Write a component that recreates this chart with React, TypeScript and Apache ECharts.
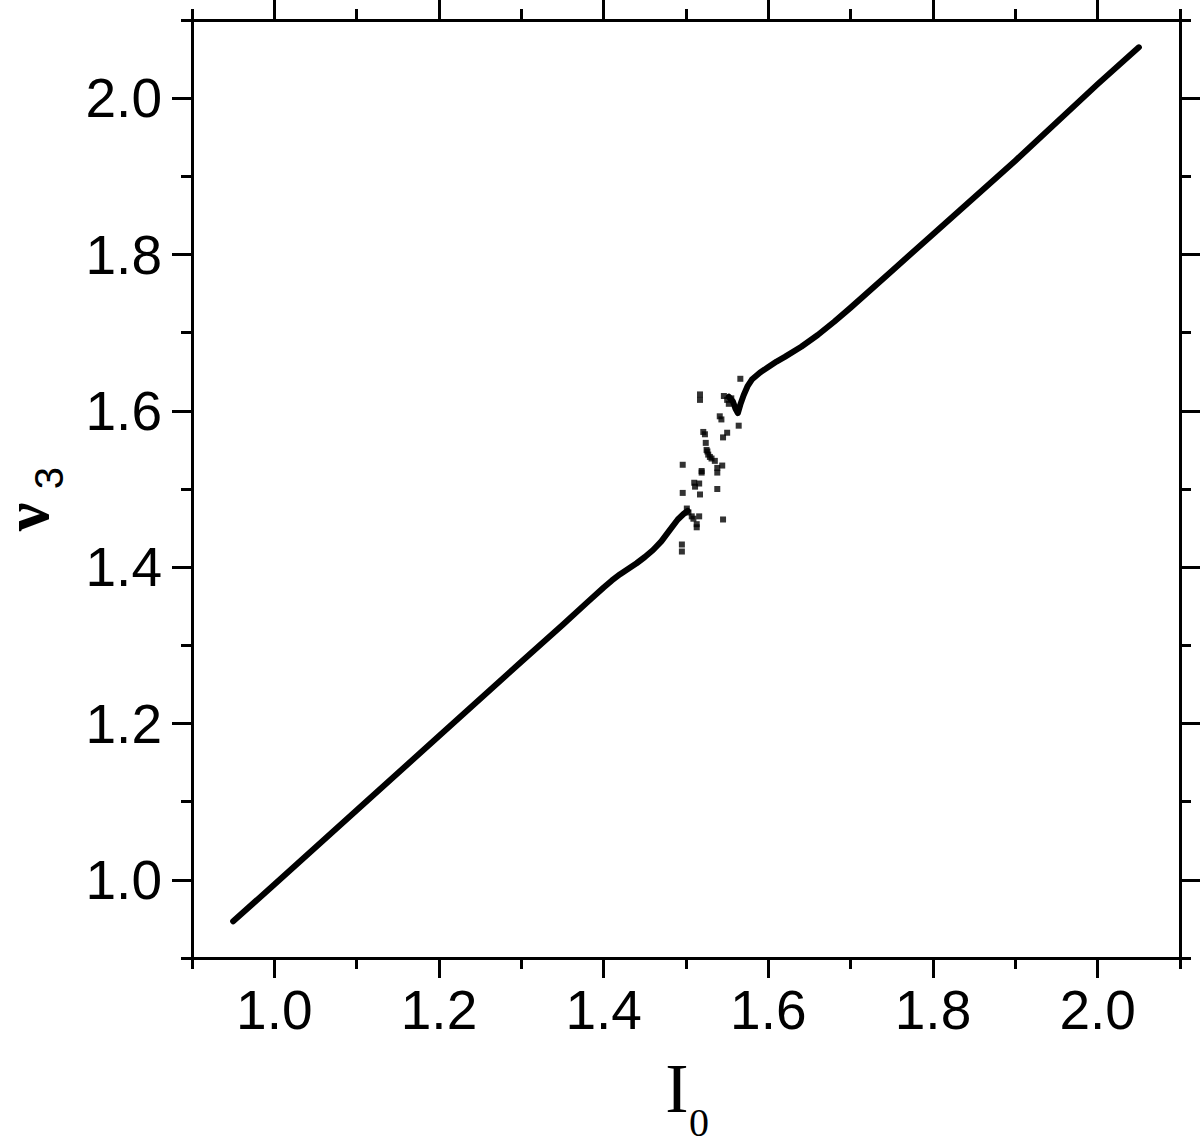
import React, { useEffect, useRef } from "react";
import * as echarts from "echarts";

const xMajorTicks = [1.0, 1.2, 1.4, 1.6, 1.8, 2.0];
const yMajorTicks = [1.0, 1.2, 1.4, 1.6, 1.8, 2.0];

const lowerX = [0.95, 1.0, 1.1, 1.2, 1.3, 1.35, 1.38, 1.4, 1.41, 1.42, 1.43, 1.44, 1.45, 1.46, 1.47, 1.48, 1.49, 1.497, 1.502];
const lowerY = [0.947, 0.994, 1.089, 1.184, 1.279, 1.326, 1.355, 1.374, 1.383, 1.391, 1.398, 1.405, 1.413, 1.422, 1.433, 1.447, 1.461, 1.468, 1.472];

const upperX = [1.552, 1.557, 1.56, 1.563, 1.566, 1.57, 1.575, 1.58, 1.59, 1.6, 1.61, 1.62, 1.64, 1.66, 1.68, 1.7, 1.75, 1.8, 1.9, 2.0, 2.05];
const upperY = [1.618, 1.612, 1.603, 1.597, 1.608, 1.62, 1.632, 1.64, 1.649, 1.656, 1.663, 1.669, 1.682, 1.697, 1.714, 1.732, 1.779, 1.826, 1.92, 2.018, 2.065];

const scatterX = [1.566, 1.517, 1.517, 1.546, 1.55, 1.555, 1.552, 1.564, 1.541, 1.543, 1.55, 1.545, 1.521, 1.523, 1.524, 1.525, 1.527, 1.531, 1.535, 1.538, 1.538, 1.544, 1.496, 1.519, 1.519, 1.51, 1.511, 1.516, 1.538, 1.496, 1.517, 1.503, 1.501, 1.507, 1.516, 1.513, 1.513, 1.545, 1.495, 1.495, 1.509, 1.526, 1.529];
const scatterY = [1.641, 1.621, 1.614, 1.619, 1.614, 1.616, 1.609, 1.581, 1.593, 1.589, 1.572, 1.566, 1.573, 1.57, 1.559, 1.55, 1.544, 1.539, 1.536, 1.527, 1.521, 1.53, 1.531, 1.523, 1.521, 1.508, 1.503, 1.507, 1.5, 1.495, 1.493, 1.47, 1.475, 1.465, 1.465, 1.455, 1.451, 1.461, 1.429, 1.42, 1.462, 1.548, 1.541];

const black = "#000";

function labelFmt(v: number) {
  const r = Math.round(v * 10);
  return r % 2 === 0 ? (r / 10).toFixed(1) : "";
}

function minorAxis(pos: string, showLabel: boolean, margin: number) {
  return {
    type: "value",
    position: pos,
    min: 0.9,
    max: 2.1,
    interval: 0.1,
    axisLine: { show: true, onZero: false, lineStyle: { color: black, width: 3 } },
    axisTick: { show: true, inside: false, length: 11, lineStyle: { color: black, width: 3 } },
    axisLabel: {
      show: showLabel,
      formatter: labelFmt,
      margin,
      color: black,
      fontSize: 55,
      fontFamily: "Liberation Sans, Arial, sans-serif",
    },
    splitLine: { show: false },
  };
}

function majorAxis(pos: string, ticks: number[]) {
  return {
    type: "value",
    position: pos,
    min: 0.9,
    max: 2.1,
    axisLine: { show: false, onZero: false },
    axisTick: { show: true, inside: false, length: 20, customValues: ticks, lineStyle: { color: black, width: 3 } },
    axisLabel: { show: false },
    splitLine: { show: false },
  };
}

export default function App() {
  const ref = useRef<HTMLDivElement>(null);
  useEffect(() => {
    document.body.style.margin = "0";
    const chart = echarts.init(ref.current as HTMLDivElement, null, { renderer: "svg" });
    const option = {
      animation: false,
      backgroundColor: "#fff",
      grid: { left: 192, right: 20, top: 20, bottom: 185, containLabel: false },
      xAxis: [
        minorAxis("bottom", true, 24),
        majorAxis("bottom", xMajorTicks),
        minorAxis("top", false, 8),
        majorAxis("top", xMajorTicks),
      ],
      yAxis: [
        minorAxis("left", true, 30),
        majorAxis("left", yMajorTicks),
        minorAxis("right", false, 8),
        majorAxis("right", yMajorTicks),
      ],
      series: [
        {
          type: "line",
          xAxisIndex: 0,
          yAxisIndex: 0,
          data: lowerX.map((x, i) => [x, lowerY[i]]),
          symbol: "none",
          lineStyle: { color: black, width: 6, cap: "round", join: "round" },
        },
        {
          type: "line",
          xAxisIndex: 0,
          yAxisIndex: 0,
          data: upperX.map((x, i) => [x, upperY[i]]),
          symbol: "none",
          lineStyle: { color: black, width: 6, cap: "round", join: "round" },
        },
        {
          type: "scatter",
          xAxisIndex: 0,
          yAxisIndex: 0,
          data: scatterX.map((x, i) => [x, scatterY[i]]),
          symbol: "rect",
          symbolSize: 6,
          itemStyle: { color: black },
        },
      ],
      graphic: [
        {
          type: "text",
          x: 677,
          y: 1088,
          style: { text: "I", font: "70px 'Liberation Serif', 'Times New Roman', serif", fill: black, textAlign: "center", textVerticalAlign: "middle" },
        },
        {
          type: "text",
          x: 699,
          y: 1122,
          style: { text: "0", font: "40px 'Liberation Serif', 'Times New Roman', serif", fill: black, textAlign: "center", textVerticalAlign: "middle" },
        },
        {
          type: "text",
          x: 26,
          y: 517,
          rotation: Math.PI / 2,
          style: { text: "ν", font: "bold 64px 'Liberation Serif', 'Times New Roman', serif", fill: black, textAlign: "center", textVerticalAlign: "middle" },
        },
        {
          type: "text",
          x: 49,
          y: 478,
          rotation: Math.PI / 2,
          style: { text: "3", font: "40px 'Liberation Sans', Arial, sans-serif", fill: black, textAlign: "center", textVerticalAlign: "middle" },
        },
      ],
    };
    chart.setOption(option as any);
    return () => chart.dispose();
  }, []);
  return <div ref={ref} style={{ width: 1200, height: 1143 }} />;
}
